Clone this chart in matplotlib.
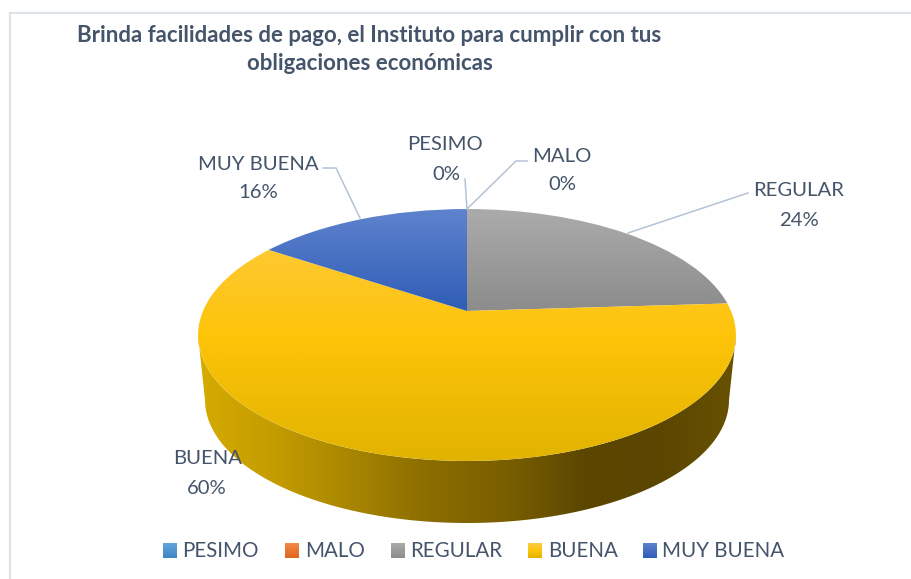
import numpy as np
import matplotlib
matplotlib.use("Agg")
import matplotlib.pyplot as plt
from matplotlib.colors import LinearSegmentedColormap as LSC
from matplotlib.patches import Polygon
from matplotlib.transforms import Transform

categories = ["PESIMO", "MALO", "REGULAR", "BUENA", "MUY BUENA"]
values = [0, 0, 24, 60.4, 15.6]
percent_labels = ["0%", "0%", "24%", "60%", "16%"]
title_lines = ["Brinda facilidades de pago, el Instituto para cumplir con tus",
               "obligaciones económicas"]

slice_gradients = {
    "PESIMO": ["#62A6DC", "#3F86C2"],
    "MALO": ["#F28A4B", "#E0651C"],
    "REGULAR": ["#ABABAB", "#8C8C8C"],
    "BUENA": ["#FFCB45", "#FDC409", "#E1B300"],
    "MUY BUENA": ["#5F83CE", "#2F5DB6"],
}
side_colors = ["#D6AB00", "#C39C00", "#A88500", "#8A6C00", "#7A5F00", "#5C4700", "#5A4600", "#685100"]
TEXT = "#44546A"
LEADER = "#B4C3D4"
FRAME = "#DEE3EA"

plt.rcParams["font.family"] = ["Lato", "DejaVu Sans"]
W, H = 912, 579
fig = plt.figure(figsize=(W / 100, H / 100), dpi=100)
ax = fig.add_axes([0, 0, 1, 1])

CX, CY, K, A, C = 467.0, 311.0, 264.0, 121.4, 0.1905


class Perspective(Transform):
    input_dims = output_dims = 2
    has_inverse = False

    def transform_non_affine(self, xy):
        xy = np.asarray(xy, float)
        d = 1 + C * xy[:, 1]
        return np.column_stack([CX + K * xy[:, 0] / d, CY - A * xy[:, 1] / d])


wedges, _ = ax.pie(values, startangle=90, counterclock=False, radius=1, center=(0, 0))
persp = Perspective() + ax.transData


def gradient(bbox, colors, vertical=True, zorder=2):
    cmap = LSC.from_list("g", colors)
    arr = np.linspace(0, 1, 256)
    arr = arr[:, None] if vertical else arr[None, :]
    x0, x1, y0, y1 = bbox
    return ax.imshow(arr, extent=(x0, x1, y1, y0), cmap=cmap, vmin=0, vmax=1,
                     aspect="auto", origin="upper", zorder=zorder, interpolation="bilinear")


# Side wall
t = np.linspace(0, np.pi, 200)
tx, ty, trx, try_ = 467, 335, 269, 126
bx, by, brx, bry = 467, 400, 262, 123
top_edge = np.column_stack([tx + trx * np.cos(t), ty + try_ * np.sin(t)])
bot_edge = np.column_stack([bx + brx * np.cos(t), by + bry * np.sin(t)])
side = Polygon(np.vstack([top_edge, bot_edge[::-1]]), closed=True, transform=ax.transData,
               facecolor="none", edgecolor="none")
ax.add_patch(side)
im = gradient((198, 737, 300, 530), side_colors, vertical=False, zorder=1)
im.set_clip_path(side)

# Top faces
extents = {"REGULAR": (198, 737, 209, 311), "BUENA": (198, 737, 209, 462), "MUY BUENA": (198, 737, 209, 311)}
for w, name, v in zip(wedges, categories, values):
    w.set_visible(False)
    if v == 0:
        continue
    w.set_transform(persp)
    im = gradient(extents[name], slice_gradients[name], zorder=2)
    im.set_clip_path(w.get_path(), persp)

# Leader lines
leaders = [
    ([323, 336, 360], [168, 168, 218]),
    ([465, 467], [179, 209]),
    ([527, 516, 467], [161, 161, 209]),
    ([748, 628], [193, 233]),
]
for xs, ys in leaders:
    ax.plot(xs, ys, color=LEADER, lw=1.1, zorder=3, solid_joinstyle="miter")

# Data labels
label_pos = {
    "PESIMO": (445, 145, 446, 174),
    "MALO": (562, 157, 562, 185),
    "REGULAR": (799, 191, 799, 220),
    "BUENA": (208, 459, 207, 488),
    "MUY BUENA": (258, 164, 258, 192),
}
for name, pct in zip(categories, percent_labels):
    x1, y1, x2, y2 = label_pos[name]
    ax.text(x1, y1, name, ha="center", va="center", fontsize=14.6, color=TEXT, zorder=5)
    ax.text(x2, y2, pct, ha="center", va="center", fontsize=14.6, color=TEXT, zorder=5)

# Title
ax.text(369.5, 35, title_lines[0], ha="center", va="center", fontsize=16, fontweight="bold", color=TEXT, zorder=5)
ax.text(369.5, 64, title_lines[1], ha="center", va="center", fontsize=16, fontweight="bold", color=TEXT, zorder=5)

# Legend
swatch_x = [163, 285, 391.5, 528.5, 643]
text_x = [182, 305, 410, 548, 662]
for name, sx, lx in zip(categories, swatch_x, text_x):
    grad = slice_gradients[name]
    gradient((sx, sx + 14, 543, 558), grad, zorder=3)
    ax.text(lx, 551, name, ha="left", va="center", fontsize=14.8, color=TEXT, zorder=5)

# Chart frame
ax.plot([10, 10], [579, 13], color=FRAME, lw=1.5, zorder=4)
ax.plot([10, 912], [13, 13], color=FRAME, lw=1.5, zorder=4)

ax.set_aspect("auto")
ax.set_xlim(0, W)
ax.set_ylim(H, 0)
ax.axis("off")
fig.savefig("out.png", dpi=100, facecolor="white")
